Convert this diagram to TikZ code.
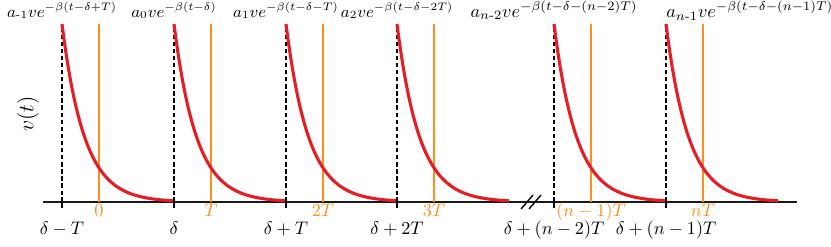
\documentclass[tikz,border=0pt]{standalone}
\usepackage{amsmath,amssymb}
\usepackage{xcolor}
\usepackage{tikz}
\usetikzlibrary{positioning,calc}
\definecolor{pred}{RGB}{228,30,36}
\definecolor{porange}{RGB}{255,142,30}

\begin{document}
\begin{tikzpicture}[
  x=0.55pt, y=0.55pt, font=\normalsize,
  paxis/.style={line width=1pt, draw=black!90},
  pdash/.style={line width=0.75pt, draw=black, dash pattern=on 2.4pt off 1.5pt},
  ptick/.style={line width=0.75pt, draw=black},
  pmark/.style={line width=0.85pt, draw=porange},
  pcurve/.style={line width=1.7pt, draw=pred},
  ptop/.style={anchor=base, inner sep=0pt, font=\small},
  porg/.style={anchor=base, inner sep=0pt, text=porange},
  pbot/.style={anchor=base, inner sep=0pt},
]
  \useasboundingbox (0,0) rectangle (831,246);
  % 1. axis
  \coordinate (ax0) at (43,44);
  \coordinate (ax1) at (797,44);
  \draw[paxis] (ax0) -- (ax1);
  \draw[ptick] (521,37) -- (533,51);
  \draw[ptick] (529,37) -- (541,51);
  \node[font=\large, rotate=90] (vt) at (28,132) {$v(t)$};
  % 2. pulses
  \foreach \xd [count=\i] in {62,174,286,397,554,666} {
    \coordinate (d\i) at (\xd,44);
    \coordinate (o\i) at (\xd+37,44);
    \draw[pdash] (d\i) -- ++(0,178);
    \draw[ptick] ([yshift=-3.3pt]d\i) -- ([yshift=2.7pt]d\i);
    \draw[pmark] (o\i) -- ++(0,178);
    \draw[pcurve] plot[domain=0:112, samples=60, smooth]
      ({\xd+\x},{44+178*exp(-0.0446*\x)});
  }
  % 3. labels
  \foreach \lab [count=\i] in {a_{\text{-}1}ve^{-\beta(t-\delta+T)},
      a_0ve^{-\beta(t-\delta)}, a_1ve^{-\beta(t-\delta-T)},
      a_2ve^{-\beta(t-\delta-2T)}}
    \node[ptop] (top\i) at (d\i |- 0,229) {$\lab$};
  \node[ptop, font=\normalsize] (top5) at (d5 |- 0,229)
    {$a_{n\text{-}2}ve^{-\beta(t-\delta-(n-2)T)}$};
  \node[ptop, font=\normalsize, anchor=base west] (top6) at (d6 |- 0,228.5)
    {$a_{n\text{-}1}ve^{-\beta(t-\delta-(n-1)T)}$};
  \foreach \lab [count=\i] in {0,T,2T,3T,(n-1)T,nT}
    \node[porg] (org\i) at (o\i |- 0,30) {$\lab$};
  \foreach \lab [count=\i] in {\delta-T,\delta,\delta+T,\delta+2T,
      \delta+(n-2)T,\delta+(n-1)T}
    \node[pbot] (bot\i) at (d\i |- 0,11.5) {$\lab$};
\end{tikzpicture}
\end{document}
